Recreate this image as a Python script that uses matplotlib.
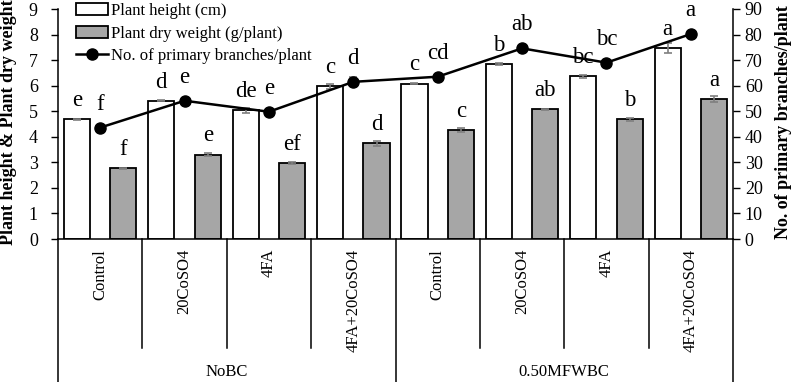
import matplotlib
matplotlib.use('Agg')
import matplotlib.pyplot as plt
import matplotlib.transforms as mtransforms
from matplotlib.patches import Patch
from matplotlib.lines import Line2D
import numpy as np

plt.rcParams['font.family'] = ['Liberation Serif', 'DejaVu Serif']

treatments = ['Control', '20CoSO4', '4FA', '4FA+20CoSO4',
              'Control', '20CoSO4', '4FA', '4FA+20CoSO4']
groups = ['NoBC', '0.50MFWBC']

height = [4.69, 5.41, 5.03, 5.97, 6.08, 6.84, 6.36, 7.48]
height_err = [0.02, 0.02, 0.08, 0.10, 0.03, 0.04, 0.05, 0.20]
height_sig = ['e', 'd', 'de', 'c', 'c', 'b', 'bc', 'a']

dry = [2.77, 3.30, 2.98, 3.74, 4.26, 5.07, 4.68, 5.47]
dry_err = [0.02, 0.05, 0.03, 0.09, 0.08, 0.03, 0.06, 0.12]
dry_sig = ['f', 'e', 'ef', 'd', 'c', 'ab', 'b', 'a']

branches = [43.6, 54.1, 49.8, 61.5, 63.5, 74.6, 69.0, 80.2]
branches_err = [0.4, 0.5, 0.5, 1.8, 0.5, 0.5, 0.5, 1.2]
branches_sig = ['f', 'e', 'e', 'd', 'cd', 'ab', 'bc', 'a']

C_GRAY = '#a6a6a6'
C_ERR = '#7f7f7f'

fig = plt.figure(figsize=(7.97, 3.82), dpi=100)
ax = fig.add_axes([58 / 797, 1 - 239 / 382, (733 - 58) / 797, 230 / 382])
ax2 = ax.twinx()

x = np.arange(len(treatments))
off, w = 0.275, 0.31

ax.bar(x - off, height, w, color='white', edgecolor='black', linewidth=1.3, zorder=2)
ax.bar(x + off, dry, w, color=C_GRAY, edgecolor='black', linewidth=1.3, zorder=2)
ax.errorbar(x - off, height, yerr=height_err, fmt='none', ecolor=C_ERR,
            elinewidth=1.2, capsize=3, capthick=1.2, zorder=3)
ax.errorbar(x + off, dry, yerr=dry_err, fmt='none', ecolor=C_ERR,
            elinewidth=1.2, capsize=3, capthick=1.2, zorder=3)

ax2.errorbar(x, branches, yerr=branches_err, fmt='none', ecolor=C_ERR,
             elinewidth=1.2, capsize=3, capthick=1.2, zorder=2)
ax2.plot(x, branches, color='black', lw=1.8, marker='o', ms=8, zorder=3)

for i in range(len(x)):
    ax.annotate(height_sig[i], (x[i] - off, height[i]), xytext=(0, 9.5),
                textcoords='offset points', ha='center', va='baseline', fontsize=16.5)
    ax.annotate(dry_sig[i], (x[i] + off, dry[i]), xytext=(0, 9.5),
                textcoords='offset points', ha='center', va='baseline', fontsize=16.5)
    ax2.annotate(branches_sig[i], (x[i], branches[i]), xytext=(0, 13),
                 textcoords='offset points', ha='center', va='baseline', fontsize=16.5)

ax.set_xlim(-0.5, 7.5)
ax.set_ylim(0, 9)
ax2.set_ylim(0, 90)
ax.set_yticks(range(0, 10))
ax2.set_yticks(range(0, 100, 10))
ax.set_xticks([])
ax.tick_params(axis='y', direction='out', length=5, width=1, pad=9.5, labelsize=13)
ax2.tick_params(axis='y', direction='out', length=5, width=1, pad=3.5, labelsize=13)

for s in ['top', 'right']:
    ax.spines[s].set_visible(False)
for s in ['top', 'left', 'bottom']:
    ax2.spines[s].set_visible(False)
for a in (ax, ax2):
    for s in a.spines.values():
        s.set_linewidth(1.1)
ax2.patch.set_visible(False)

# category labels and separators under the axis
trans = mtransforms.blended_transform_factory(ax.transData, fig.transFigure)
for i, name in enumerate(treatments):
    fig.text(x[i], 1 - 249 / 382, name, transform=trans, rotation=90,
             ha='center', va='top', fontsize=12)
y0 = 1 - 239 / 382
for b in [0.5, 1.5, 2.5, 4.5, 5.5, 6.5]:
    fig.add_artist(Line2D([b, b], [y0, 1 - 348 / 382], transform=trans,
                          color='black', lw=1.1))
for b in [-0.5, 3.5, 7.5]:
    fig.add_artist(Line2D([b, b], [y0, 0], transform=trans, color='black', lw=1.1))
for g, name in enumerate(groups):
    fig.text(g * 4 + 1.5, 1 - 372 / 382, name, transform=trans,
             ha='center', va='center', fontsize=12)

fig.text(9 / 797, 1 - 245 / 382, 'Plant height & Plant dry weight', rotation=90,
         ha='center', va='bottom', fontsize=13, fontweight='bold')
fig.text(783 / 797, 1 - 122 / 382, 'No. of primary branches/plant', rotation=90,
         ha='center', va='center', fontsize=13, fontweight='bold')

handles = [Patch(facecolor='white', edgecolor='black', lw=1.3),
           Patch(facecolor=C_GRAY, edgecolor='black', lw=1.3),
           Line2D([], [], color='black', lw=1.8, marker='o', ms=8)]
labels = ['Plant height (cm)', 'Plant dry weight (g/plant)', 'No. of primary branches/plant']
fig.legend(handles, labels, loc='upper left', bbox_to_anchor=(76 / 797, 1 - 3 / 382),
           frameon=False, fontsize=12, borderpad=0, borderaxespad=0,
           handlelength=1.9, handletextpad=0.2, labelspacing=0.4)

fig.savefig('out.png', dpi=100)
